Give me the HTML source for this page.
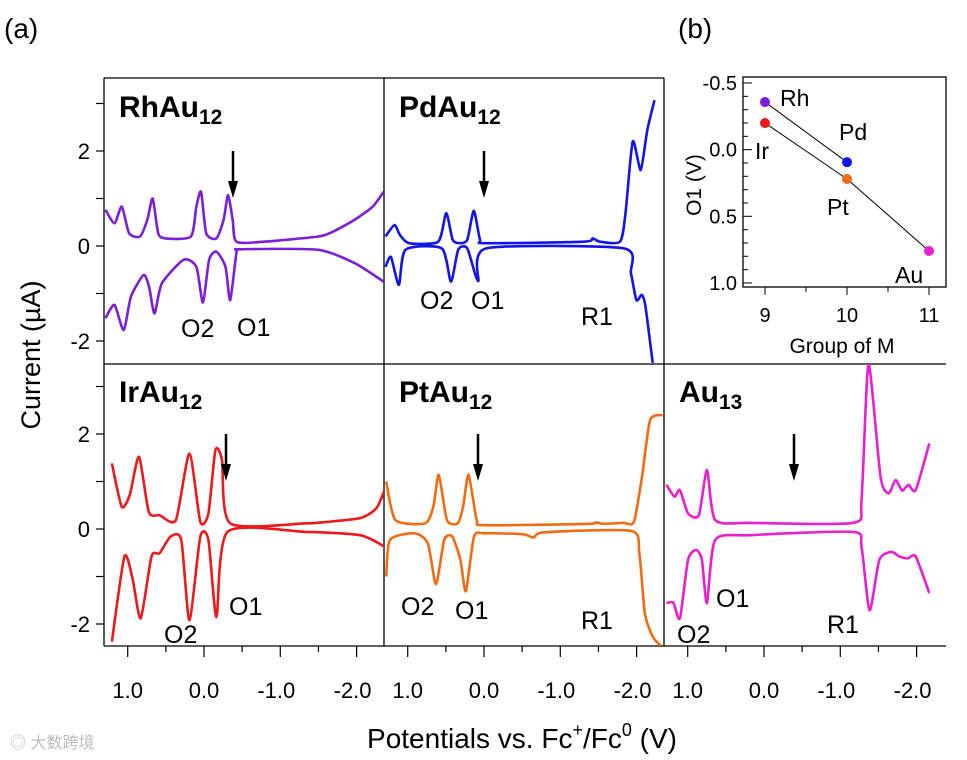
<!DOCTYPE html>
<html><head><meta charset="utf-8">
<style>
html,body{margin:0;padding:0;background:#fff;}
svg{display:block;font-family:"Liberation Sans",Arial,sans-serif;}
</style></head>
<body>
<svg id="fig" width="967" height="760" viewBox="0 0 967 760" xmlns="http://www.w3.org/2000/svg">
<text x="4" y="38" font-size="28">(a)</text>
<text x="678" y="38" font-size="28">(b)</text>
<g id="axes"></g>
<g id="curves"></g>
<g id="annot"></g>
<g id="inset"></g>
<text transform="translate(40,355) rotate(-90)" text-anchor="middle" font-size="27">Current (µA)</text>
<text x="522" y="748" text-anchor="middle" font-size="28">Potentials vs. Fc<tspan font-size="18" dy="-12">+</tspan><tspan dy="12">/Fc</tspan><tspan font-size="18" dy="-12">0</tspan><tspan dy="12"> (V)</tspan></text>
<text x="10" y="748" font-size="16" fill="#bbb" font-family="'Liberation Sans','Noto Sans CJK SC',sans-serif">◎ 大数跨境</text>
</svg>
<script>
// ---- data ----
const xTickVals = [1.0, 0.0, -1.0, -2.0];
const xTickLabels = ["1.0", "0.0", "-1.0", "-2.0"];
const yTickVals = [2, 0, -2];
const yTickLabels = ["2", "0", "-2"];
const panelNames = ["RhAu12","PdAu12","IrAu12","PtAu12","Au13"];
const rhUpV=[1.291,1.173,1.077,0.982,0.839,0.743,0.672,0.600,0.505,0.172,0.100,0.038,-0.029,-0.163,-0.257,-0.315,-0.376,-0.425,-0.781,-1.497,-1.687,-1.973,-2.211,-2.354];
const rhUpI=[0.76,0.48,0.83,0.27,0.20,0.55,1.00,0.27,0.16,0.20,0.83,1.14,0.27,0.16,0.55,1.07,0.55,0.09,0.09,0.20,0.30,0.55,0.83,1.14];
const rhLoV=[1.291,1.173,1.053,0.958,0.792,0.720,0.649,0.553,0.267,0.100,0.014,-0.067,-0.163,-0.282,-0.343,-0.425,-0.472,-1.497,-1.973,-2.354];
const rhLoI=[-1.52,-1.24,-1.77,-1.07,-0.61,-0.86,-1.42,-0.79,-0.29,-0.44,-1.19,-0.29,-0.12,-0.44,-1.14,-0.15,-0.07,-0.08,-0.36,-0.75];
const pdUpV=[1.291,1.173,1.101,0.981,0.600,0.495,0.410,0.315,0.219,0.134,0.052,-0.019,-1.305,-1.425,-1.521,-1.783,-1.854,-1.949,-2.054,-2.140,-2.235];
const pdUpI=[0.20,0.44,0.23,0.06,0.09,0.69,0.13,0.06,0.13,0.74,0.13,0.06,0.09,0.16,0.09,0.09,0.69,2.20,1.60,2.44,3.07];
const pdLoV=[1.291,1.220,1.115,1.029,0.553,0.434,0.338,0.219,0.076,-0.029,-1.830,-1.925,-1.997,-2.068,-2.117,-2.211];
const pdLoI=[-0.44,-0.23,-0.82,-0.08,-0.05,-0.75,-0.08,-0.05,-0.74,-0.05,-0.05,-0.57,-1.14,-1.03,-1.28,-2.46];
const irUpV=[1.207,1.079,0.972,0.852,0.723,0.582,0.368,0.191,0.048,-0.058,-0.149,-0.236,-0.342,-1.337,-1.479,-2.047,-2.261,-2.367];
const irUpI=[1.38,0.47,0.72,1.52,0.36,0.29,0.19,1.59,0.15,0.33,1.66,1.45,0.12,0.12,0.13,0.23,0.44,0.82];
const irLoV=[1.207,1.043,0.937,0.830,0.688,0.582,0.439,0.297,0.191,0.048,-0.058,-0.164,-0.307,-1.337,-2.047,-2.367];
const irLoI=[-2.37,-0.58,-1.04,-1.88,-0.58,-0.51,-0.16,-0.23,-1.92,-0.16,-0.23,-1.85,-0.06,-0.06,-0.13,-0.37];
const ptUpV=[1.282,1.161,0.771,0.664,0.592,0.486,0.345,0.274,0.202,0.096,-0.010,-1.360,-1.466,-1.573,-1.822,-1.965,-2.071,-2.177,-2.341];
const ptUpI=[1.0,0.19,0.12,0.47,1.14,0.19,0.12,0.47,1.14,0.19,0.08,0.11,0.14,0.11,0.13,0.15,1.10,2.29,2.40];
const ptLoV=[1.282,1.232,0.912,0.736,0.629,0.522,0.415,0.309,0.237,0.131,-0.010,-0.508,-0.650,-0.792,-1.929,-2.036,-2.107,-2.212,-2.320];
const ptLoI=[-1.0,-0.23,-0.09,-0.30,-1.16,-0.23,-0.16,-0.65,-1.31,-0.16,-0.09,-0.11,-0.18,-0.07,-0.04,-0.51,-1.77,-2.27,-2.46];
const auUpV=[1.279,1.173,1.102,0.996,0.853,0.747,0.640,0.178,-1.172,-1.278,-1.370,-1.527,-1.633,-1.725,-1.810,-1.895,-1.988,-2.166];
const auUpI=[0.93,0.68,0.82,0.33,0.29,1.24,0.19,0.13,0.13,0.61,3.47,1.10,0.75,1.03,0.81,0.93,0.82,1.80];
const auLoV=[1.279,1.189,1.102,0.996,0.889,0.814,0.747,0.640,0.178,-1.172,-1.278,-1.384,-1.511,-1.668,-1.775,-1.882,-1.988,-2.166];
const auLoI=[-1.56,-1.55,-1.88,-0.65,-0.44,-0.65,-1.56,-0.23,-0.13,-0.06,-0.37,-1.71,-0.65,-0.48,-0.58,-0.62,-0.58,-1.35];
const insetGroups=[9,10,9,10,11];
const insetO1=[-0.357,0.094,-0.20,0.22,0.76];
const insetLabels=["Rh","Pd","Ir","Pt","Au"];
const insetYTicks=[-0.5,0.0,0.5,1.0];
const insetYTickLabels=["-0.5","0.0","0.5","1.0"];
const insetXTicks=[9,10,11];

// ---- layout ----
const NS="http://www.w3.org/2000/svg";
function mk(tag,attrs,parent){const e=document.createElementNS(NS,tag);for(const k in attrs)e.setAttribute(k,attrs[k]);parent.appendChild(e);return e;}
const PXV=76.3, PXI=47.5;
const panels=[
 {x0:204,y0:246,top:78,bot:364,left:104,right:384,color:"#7b1fd8",up:[rhUpV,rhUpI],lo:[rhLoV,rhLoI]},
 {x0:484,y0:246,top:78,bot:364,left:384,right:664,color:"#1414e6",up:[pdUpV,pdUpI],lo:[pdLoV,pdLoI]},
 {x0:204,y0:529,top:364,bot:646,left:104,right:384,color:"#ec1a1a",up:[irUpV,irUpI],lo:[irLoV,irLoI]},
 {x0:484,y0:529,top:364,bot:646,left:384,right:664,color:"#f26b12",up:[ptUpV,ptUpI],lo:[ptLoV,ptLoI]},
 {x0:764,y0:529,top:364,bot:646,left:664,right:946,color:"#e820d0",up:[auUpV,auUpI],lo:[auLoV,auLoI]}
];
function xs(p,v){return p.x0 - v*PXV;}
function ys(p,i){return p.y0 - i*PXI;}
function smoothPath(pts){
 let d="M"+pts[0][0].toFixed(1)+","+pts[0][1].toFixed(1);
 const f=9;
 for(let i=0;i<pts.length-1;i++){
  const p0=pts[Math.max(0,i-1)],p1=pts[i],p2=pts[i+1],p3=pts[Math.min(pts.length-1,i+2)];
  const c1x=p1[0]+(p2[0]-p0[0])/f,c1y=p1[1]+(p2[1]-p0[1])/f;
  const c2x=p2[0]-(p3[0]-p1[0])/f,c2y=p2[1]-(p3[1]-p1[1])/f;
  d+=" C"+c1x.toFixed(1)+","+c1y.toFixed(1)+" "+c2x.toFixed(1)+","+c2y.toFixed(1)+" "+p2[0].toFixed(1)+","+p2[1].toFixed(1);
 }
 return d;
}
const axes=document.getElementById('axes'), curves=document.getElementById('curves');
const defs=mk('defs',{},curves);
panels.forEach((p,k)=>{
 const cp=mk('clipPath',{id:'c'+k},defs);
 mk('rect',{x:p.left,y:p.top,width:p.right-p.left,height:p.bot-p.top},cp);
 const g=mk('g',{'clip-path':'url(#c'+k+')'},curves);
 
 
 [['up',p.up],['lo',p.lo]].forEach(([nm,s])=>{
  const pts=s[0].map((v,j)=>[xs(p,v),ys(p,s[1][j])]);
  const path=mk('path',{d:smoothPath(pts),fill:'none',stroke:p.color,'stroke-width':2.6,'stroke-linejoin':'round'},g);
  
  
 });
 if(p.bot===646){
  for(let v=1.5;v>=-2.5;v-=0.5){
   const x=xs(p,v); if(x<p.left+2||x>p.right-2)continue;
   const major=Math.abs(v-Math.round(v))<1e-6;
   mk('line',{x1:x,y1:646,x2:x,y2:major?657:652,stroke:'#000','stroke-width':1.2},axes);
  }
  xTickVals.forEach((v,j)=>{
   const t=mk('text',{x:xs(p,v)-(xTickLabels[j][0]==='-'?4:0),y:698,'text-anchor':'middle','font-size':22},axes);
   t.textContent=xTickLabels[j];
   
   
  });
 }
 if(p.left===104){
  for(let i=-3;i<=3;i++){
   const y=ys(p,i); if(y<p.top+2||y>p.bot-2)continue;
   mk('line',{x1:104,y1:y,x2:96,y2:y,stroke:'#000','stroke-width':1.2},axes);
  }
  yTickVals.forEach((v,j)=>{
   const t=mk('text',{x:90,y:ys(p,v)+8,'text-anchor':'end','font-size':22},axes);
   t.textContent=yTickLabels[j];
   
   
  });
 }
});
[[104,78,664,78],[104,78,104,646],[384,78,384,646],[664,78,664,646],[104,364,946,364],[104,646,946,646]].forEach(a=>{
 const l=mk('line',{x1:a[0],y1:a[1],x2:a[2],y2:a[3],stroke:'#000','stroke-width':1.3},axes);
 
 
});
const an=document.getElementById('annot');
const titles=[["RhAu","12",119,117],["PdAu","12",399,117],["IrAu","12",119,402],["PtAu","12",399,402],["Au","13",679,402]];
titles.forEach((t,k)=>{
 const e=mk('text',{x:t[2],y:t[3],'font-size':30,'font-weight':'bold'},an);
 e.innerHTML=t[0]+'<tspan font-size="21" dy="7">'+t[1]+'</tspan>';
 
 
});
[[233,151],[484,151],[226,434],[478,434],[794,434]].forEach(a=>{
 const g=mk('g',{},an);
 
 
 mk('line',{x1:a[0],y1:a[1],x2:a[0],y2:a[1]+34,stroke:'#000','stroke-width':2.5},g);
 mk('polygon',{points:(a[0]-5)+','+(a[1]+30)+' '+(a[0]+5)+','+(a[1]+30)+' '+a[0]+','+(a[1]+47),fill:'#000'},g);
});
[["O1",237,336],["O2",181,337],["O2",420,309],["O1",471,309],["R1",581,325],["O1",229,615],["O2",164,643],["O2",401,615],["O1",455,619],["R1",581,629],["O1",716,607],["O2",677,643],["R1",827,633]].forEach(a=>{
 const t=mk('text',{x:a[1],y:a[2],'font-size':25},an);
 t.textContent=a[0];
 
 
});
const ins=document.getElementById('inset');
const IL=743,IR=946,IT=77,IB=287;
function ix(g){return 765+(g-9)*82;}
function iy(v){return 83+(v+0.5)*133.3;}
mk('rect',{x:IL,y:IT,width:IR-IL,height:IB-IT,fill:'none',stroke:'#000','stroke-width':1.3},ins);
for(let v=-0.5;v<=1.0001;v+=0.1){const y=iy(v);const maj=Math.abs(v*2-Math.round(v*2))<1e-6;mk('line',{x1:IL,y1:y,x2:IL+(maj?9:5),y2:y,stroke:'#000','stroke-width':1},ins);}
insetYTicks.forEach((v,j)=>{const t=mk('text',{x:IL-6,y:iy(v)+7,'text-anchor':'end','font-size':20},ins);t.textContent=insetYTickLabels[j];});
insetXTicks.forEach(g=>{mk('line',{x1:ix(g),y1:IB,x2:ix(g),y2:IB+8,stroke:'#000','stroke-width':1},ins);const t=mk('text',{x:ix(g),y:IB+35,'text-anchor':'middle','font-size':20},ins);t.textContent=String(g);});
[9.5,10.5].forEach(g=>mk('line',{x1:ix(g),y1:IB,x2:ix(g),y2:IB+5,stroke:'#000','stroke-width':1},ins));
const gt=mk('text',{x:842,y:353,'text-anchor':'middle','font-size':21},ins);gt.textContent="Group of M";

const ot=mk('text',{transform:'translate(701,185) rotate(-90)','text-anchor':'middle','font-size':21},ins);ot.textContent="O1 (V)";

[[0,1],[2,3],[3,4]].forEach(s=>mk('line',{x1:ix(insetGroups[s[0]]),y1:iy(insetO1[s[0]]),x2:ix(insetGroups[s[1]]),y2:iy(insetO1[s[1]]),stroke:'#000','stroke-width':1},ins));
const icol=["#7b1fd8","#1414e6","#ec1a1a","#f26b12","#e820d0"];
const loff=[[15,4],[-8,-22],[-10,36],[-20,36],[-34,32]];
insetGroups.forEach((g,j)=>{
 const c=mk('circle',{cx:ix(g),cy:iy(insetO1[j]),r:5,fill:icol[j]},ins);
 
 
 const t=mk('text',{x:ix(g)+loff[j][0],y:iy(insetO1[j])+loff[j][1],'font-size':23},ins);
 t.textContent=insetLabels[j];
 
 
});
</script>
</body></html>
